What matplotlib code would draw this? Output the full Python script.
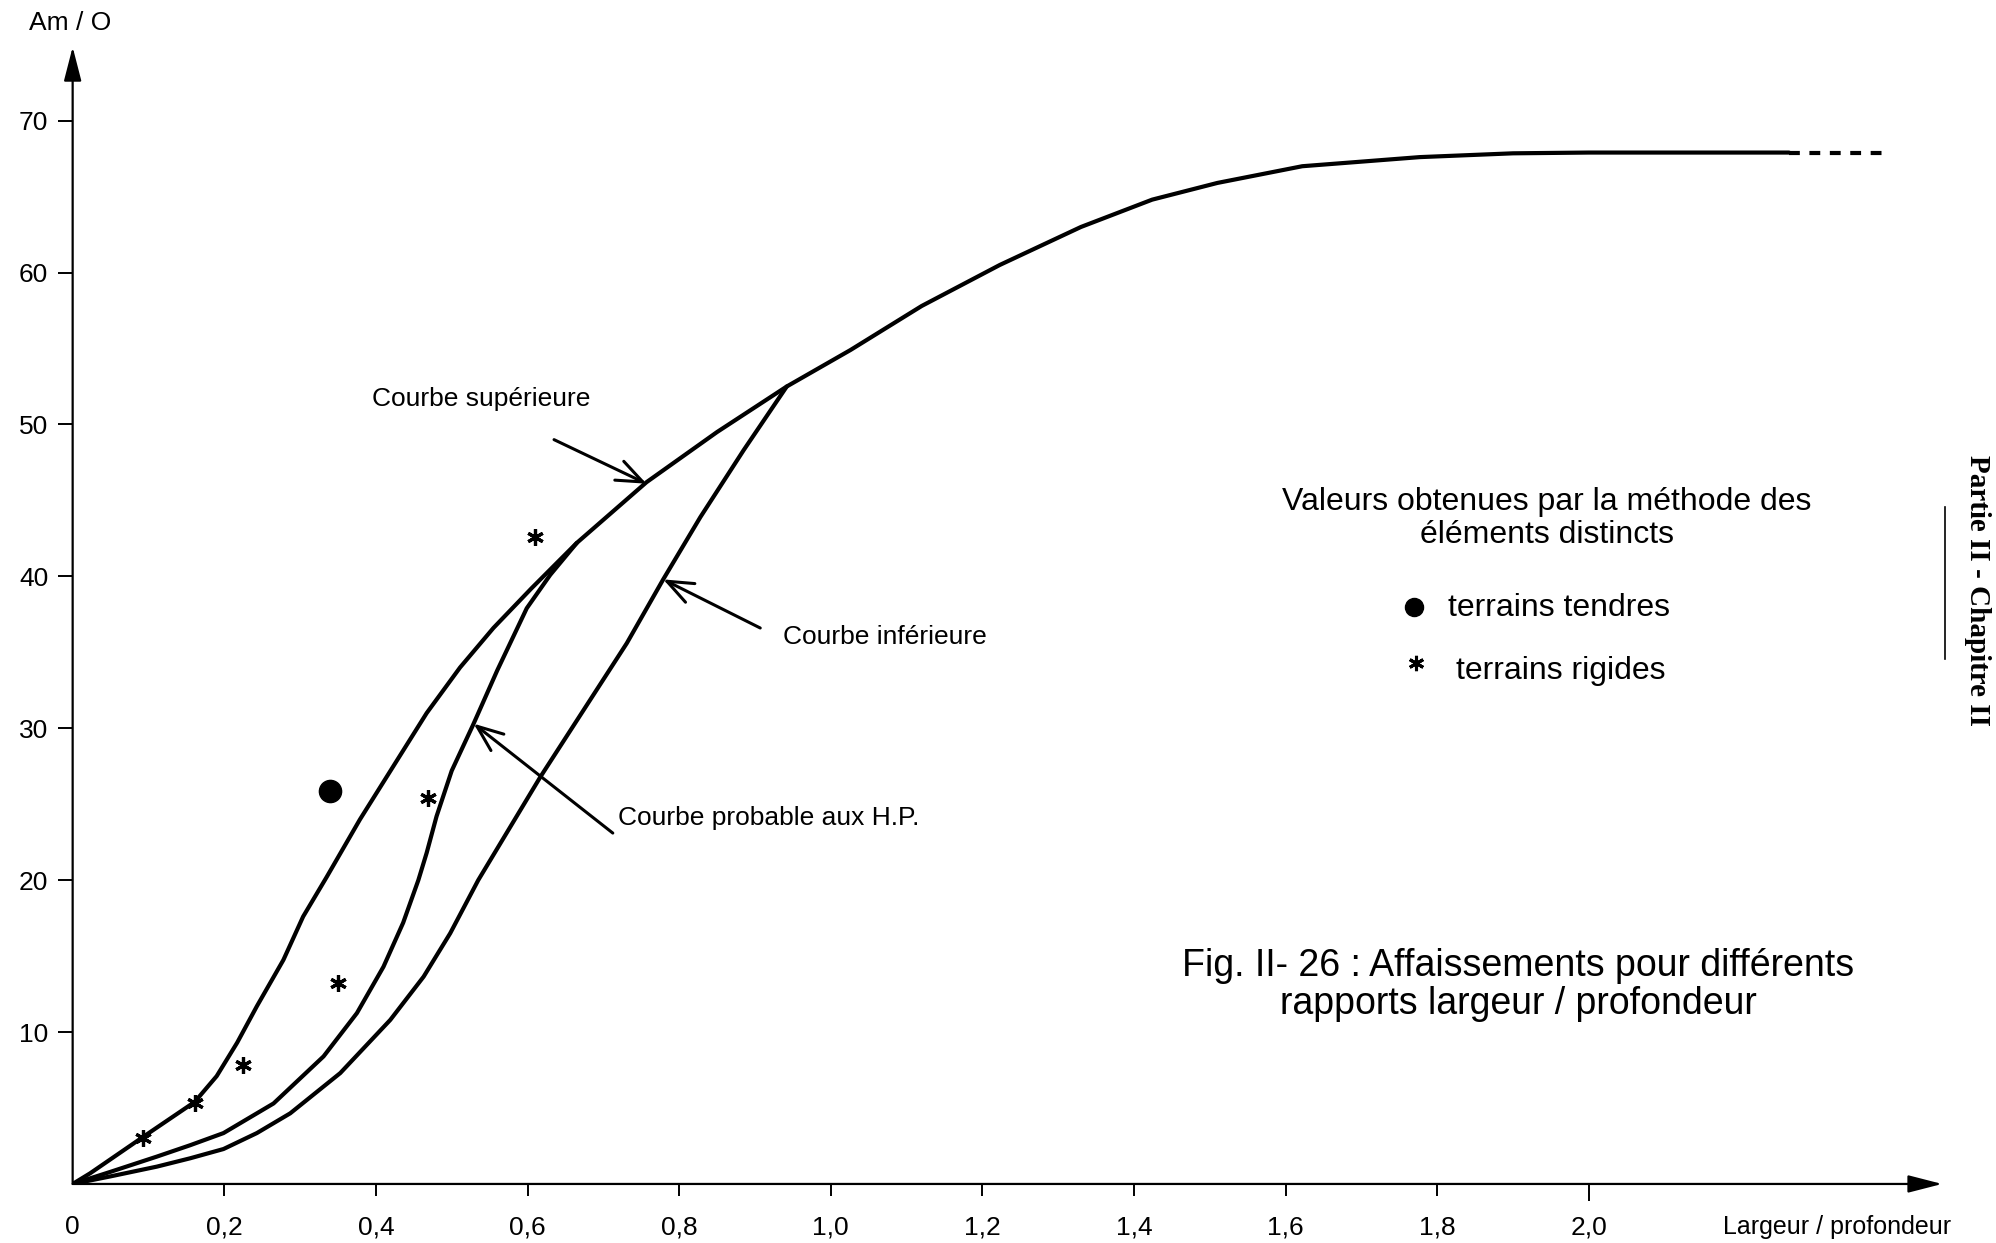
import matplotlib.pyplot as plt
from matplotlib.lines import Line2D

plt.rcParams['font.family'] = ['Liberation Sans', 'DejaVu Sans']

# courbe supérieure (trait plein) puis son prolongement en pointillés
upper_x = [0, 0.023, 0.093, 0.161, 0.19, 0.217, 0.243, 0.278, 0.304, 0.335, 0.379, 0.423,
           0.467, 0.511, 0.555, 0.605, 0.665, 0.757, 0.85, 0.942, 1.026, 1.12, 1.223,
           1.33, 1.424, 1.51, 1.622, 1.777, 1.9, 2.0, 2.146, 2.264]
upper_y = [0, 0.7, 3.1, 5.4, 7.1, 9.3, 11.7, 14.75, 17.6, 20.2, 24.0, 27.5,
           31.0, 34.0, 36.6, 39.2, 42.2, 46.2, 49.5, 52.5, 54.9, 57.8, 60.5,
           63.0, 64.8, 65.9, 67.0, 67.6, 67.85, 67.9, 67.9, 67.9]
plateau_x = [2.264, 2.39]
plateau_y = [67.9, 67.9]

# courbe probable aux H.P.
probable_x = [0, 0.05, 0.111, 0.155, 0.199, 0.265, 0.331, 0.375, 0.41, 0.436, 0.456, 0.467,
              0.48, 0.5, 0.528, 0.56, 0.599, 0.63, 0.665]
probable_y = [0, 0.8, 1.8, 2.55, 3.35, 5.3, 8.4, 11.25, 14.3, 17.2, 20.0, 21.8,
              24.2, 27.2, 30.2, 33.8, 37.9, 40.1, 42.2]

# courbe inférieure
lower_x = [0, 0.05, 0.111, 0.155, 0.199, 0.243, 0.287, 0.353, 0.419, 0.463, 0.498, 0.535,
           0.617, 0.674, 0.731, 0.779, 0.828, 0.885, 0.942]
lower_y = [0, 0.5, 1.14, 1.69, 2.3, 3.35, 4.65, 7.3, 10.8, 13.65, 16.5, 20.0,
           26.8, 31.2, 35.6, 39.8, 43.9, 48.3, 52.5]

# valeurs par la méthode des éléments distincts
rigid_x = [0.093, 0.161, 0.225, 0.35, 0.469, 0.61]
rigid_y = [3.0, 5.3, 7.8, 13.25, 25.4, 42.6]
soft_x = [0.34]
soft_y = [25.9]

xtick_vals = [0, 0.2, 0.4, 0.6, 0.8, 1.0, 1.2, 1.4, 1.6, 1.8, 2.0]
xtick_labels = ['0', '0,2', '0,4', '0,6', '0,8', '1,0', '1,2', '1,4', '1,6', '1,8', '2,0']
ytick_vals = [10, 20, 30, 40, 50, 60, 70]

star = (6, 2, 0)

fig = plt.figure(figsize=(19.96, 12.43), dpi=100)
ax = fig.add_axes([0.0364, 0.0475, 0.9366, 0.9147])
ax.set_xlim(0, 2.466)
ax.set_ylim(0, 74.85)
for s in ax.spines.values():
    s.set_visible(False)

# axes with arrow heads
axis_arrow = dict(arrowstyle='-|>, head_length=0.7, head_width=0.18', lw=1.6,
                  color='black', mutation_scale=30, shrinkA=0, shrinkB=0)
ax.annotate('', xy=(1, 0), xytext=(0, 0), xycoords='axes fraction',
            arrowprops=axis_arrow, annotation_clip=False)
ax.annotate('', xy=(0, 1), xytext=(0, 0), xycoords='axes fraction',
            arrowprops=axis_arrow, annotation_clip=False)

ax.set_xticks(xtick_vals)
ax.set_xticklabels(xtick_labels)
ax.set_yticks(ytick_vals)
ax.tick_params(axis='x', direction='out', length=8.5, width=1.4, pad=14, labelsize=19)
ax.tick_params(axis='y', direction='out', length=10.5, width=1.4, pad=7, labelsize=19)
ax.xaxis.get_major_ticks()[0].tick1line.set_visible(False)
ax.xaxis.get_major_ticks()[-1].tick1line.set_markersize(12)

# curves
ax.plot(upper_x, upper_y, color='black', lw=3, solid_capstyle='round', solid_joinstyle='round')
ax.plot(plateau_x, plateau_y, color='black', lw=3, linestyle=(0, (2.6, 2.3)))
ax.plot(probable_x, probable_y, color='black', lw=3, solid_capstyle='round', solid_joinstyle='round')
ax.plot(lower_x, lower_y, color='black', lw=3, solid_capstyle='round', solid_joinstyle='round')

ax.plot(rigid_x, rigid_y, linestyle='none', marker=star, ms=12, mew=2.3, color='black')
ax.plot(soft_x, soft_y, linestyle='none', marker='o', ms=16, color='black')

# curve labels with arrows
pointer = dict(arrowstyle='->, head_length=0.75, head_width=0.3', lw=2.2,
               color='black', mutation_scale=25, shrinkA=0, shrinkB=0)
ax.text(0.395, 51.7, 'Courbe supérieure', fontsize=19, ha='left', va='center')
ax.annotate('', xy=(0.757, 46.1), xytext=(0.635, 49.0), arrowprops=pointer)
ax.text(0.937, 36.0, 'Courbe inférieure', fontsize=19, ha='left', va='center')
ax.annotate('', xy=(0.779, 39.8), xytext=(0.907, 36.6), arrowprops=pointer)
ax.text(0.719, 24.1, 'Courbe probable aux H.P.', fontsize=19, ha='left', va='center')
ax.annotate('', xy=(0.529, 30.3), xytext=(0.7125, 23.1), arrowprops=pointer)

# key
fig.text(0.775, 0.583, 'Valeurs obtenues par la méthode des\néléments distincts',
         fontsize=23, ha='center', va='center', multialignment='center', linespacing=1.15)
ax.plot([1.770], [38.0], linestyle='none', marker='o', ms=13, color='black', clip_on=False)
ax.text(1.814, 37.9, 'terrains tendres', fontsize=23, ha='left', va='center')
ax.plot([1.772], [34.3], linestyle='none', marker=star, ms=11, mew=2.2, color='black', clip_on=False)
ax.text(1.825, 33.8, 'terrains rigides', fontsize=23, ha='left', va='center')

# axis titles
fig.text(0.0351, 0.9815, 'Am / O', fontsize=19, ha='center', va='center')
fig.text(0.9775, 0.0125, 'Largeur / profondeur', fontsize=18, ha='right', va='center')

# figure caption
fig.text(0.7605, 0.2076, 'Fig. II- 26 : Affaissements pour différents\nrapports largeur / profondeur',
         fontsize=27, ha='center', va='center', multialignment='center', linespacing=1.05)

# page margin header
fig.text(0.9905, 0.5253, 'Partie II - Chapitre II', fontsize=21, family='Liberation Serif',
         fontweight='bold', rotation=270, ha='center', va='center')
fig.add_artist(Line2D([0.9745, 0.9745], [1 - 507 / 1243, 1 - 659 / 1243],
                      transform=fig.transFigure, color='black', lw=1.2))

fig.savefig('out.png', dpi=100)
